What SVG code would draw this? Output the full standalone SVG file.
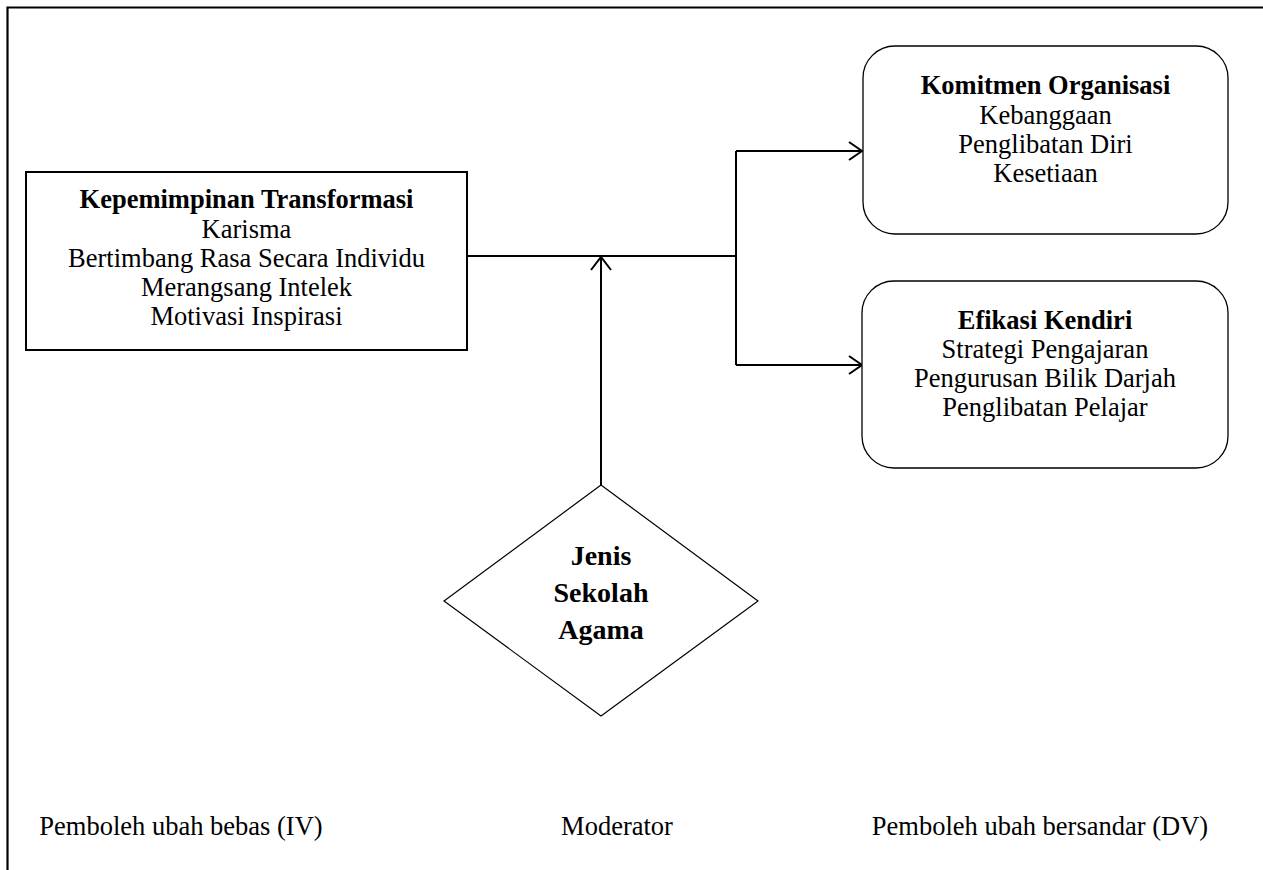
<svg xmlns="http://www.w3.org/2000/svg" width="1263" height="870" viewBox="0 0 1263 870">
  <style>
    .t { font-family: 'Liberation Serif', 'DejaVu Serif', serif; font-size: 26.5px; fill: #000; text-anchor: middle; }
    .b { font-weight: bold; }
    .box { fill: #fff; stroke: #000; stroke-width: 2; }
    .rbox { fill: #fff; stroke: #000; stroke-width: 1.3; }
    .dia { fill: #fff; stroke: #000; stroke-width: 1.2; }
    .wire { fill: none; stroke: #000; stroke-width: 2; }
    .head { fill: none; stroke: #000; stroke-width: 2; stroke-linejoin: miter; }
  </style>
  <rect width="1263" height="870" fill="#fff"/>

  <!-- frame -->
  <path d="M7.5,870 V7.5 H1263" fill="none" stroke="#000" stroke-width="2.2"/>

  <!-- connectors -->
  <g id="connectors">
    <path class="wire" d="M467,256 H736"/>
    <path class="wire" d="M736,151 V365"/>
    <path class="wire" d="M736,151 H861"/>
    <path class="wire" d="M736,365 H861"/>
    <path class="head" d="M849,142 L862,151 L849,160"/>
    <path class="head" d="M849,356 L862,365 L849,374"/>
    <path class="wire" d="M601,485 V257"/>
    <path class="head" d="M591,270 L601,257 L611,270"/>
  </g>

  <!-- independent variable -->
  <g id="node-iv" font-family="Liberation Serif">
    <rect class="box" x="26" y="172" width="441" height="178"/>
    <text class="t b" x="246.5" y="208">Kepemimpinan Transformasi</text>
    <text class="t" x="246.5" y="237.5">Karisma</text>
    <text class="t" x="246.5" y="266.5">Bertimbang Rasa Secara Individu</text>
    <text class="t" x="246.5" y="295.5">Merangsang Intelek</text>
    <text class="t" x="246.5" y="324.5">Motivasi Inspirasi</text>
  </g>

  <!-- dependent variable 1 -->
  <g id="node-dv1">
    <rect class="rbox" x="863" y="46" width="365" height="188" rx="32" ry="32"/>
    <text class="t b" x="1045.5" y="94">Komitmen Organisasi</text>
    <text class="t" x="1045.5" y="123.5">Kebanggaan</text>
    <text class="t" x="1045.5" y="152.5">Penglibatan Diri</text>
    <text class="t" x="1045.5" y="181.5">Kesetiaan</text>
  </g>

  <!-- dependent variable 2 -->
  <g id="node-dv2">
    <rect class="rbox" x="862" y="281" width="366" height="187" rx="32" ry="32"/>
    <text class="t b" x="1045" y="329">Efikasi Kendiri</text>
    <text class="t" x="1045" y="358">Strategi Pengajaran</text>
    <text class="t" x="1045" y="387">Pengurusan Bilik Darjah</text>
    <text class="t" x="1045" y="416">Penglibatan Pelajar</text>
  </g>

  <!-- moderator -->
  <g id="node-moderator">
    <polygon class="dia" points="601,485 758,601 601,716 444,601"/>
    <text class="t b" x="601" y="565" style="font-size:28px">Jenis</text>
    <text class="t b" x="601" y="602" style="font-size:28px">Sekolah</text>
    <text class="t b" x="601" y="639" style="font-size:28px">Agama</text>
  </g>

  <!-- column labels -->
  <g id="labels">
    <text class="t" x="181" y="835">Pemboleh ubah bebas (IV)</text>
    <text class="t" x="617" y="835">Moderator</text>
    <text class="t" x="1040" y="835">Pemboleh ubah bersandar (DV)</text>
  </g>
</svg>
